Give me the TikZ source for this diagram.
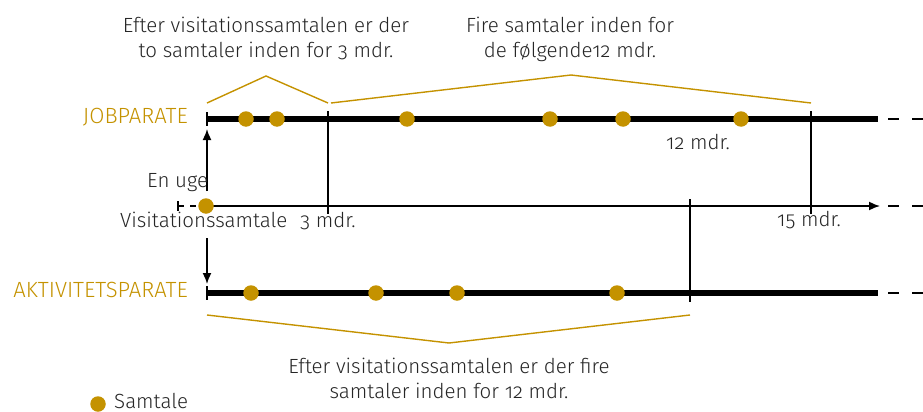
\documentclass[tikz,border=0pt]{standalone}
\usepackage{fontspec}
\setmainfont[Numbers=OldStyle]{Fira Sans Light}
\usetikzlibrary{arrows.meta}
\definecolor{gold}{RGB}{196,146,0}
\tikzset{
  dot/.style={circle,fill=gold,inner sep=0pt,minimum size=15.5pt},
  track/.style={line width=5.5pt},
  axisline/.style={line width=1.6pt},
  marker/.style={line width=1.6pt},
  brace/.style={gold,line width=1.4pt},
  tail/.style={line width=1.6pt,dash pattern=on 11pt off 13pt},
  lbl/.style={font=\fontsize{20.5}{25}\selectfont,text=black!85,inner sep=0pt},
  group/.style={lbl,gold,font=\fontsize{22}{26}\selectfont},
  tip/.style={-{Latex[length=11pt,width=9pt]}}
}
\begin{document}
\begin{tikzpicture}[x=1pt,y=-1pt]
\useasboundingbox (0,0) rectangle (923,412);

% track end points
\coordinate (jA) at (207,119); \coordinate (jB) at (878,119);
\coordinate (aA) at (207,293); \coordinate (aB) at (878,293);
\coordinate (tA) at (207,206); \coordinate (tB) at (880,206);

% row labels
\node[group,anchor=base east] (job) at (188,123) {JOBPARATE};
\node[group,anchor=base east] (akt) at (188,297) {AKTIVITETSPARATE};

% month markers
\coordinate (m3t) at (328,111); \coordinate (m3b) at (328,214);
\coordinate (m15t) at (811,111); \coordinate (m15b) at (811,214);
\coordinate (m12t) at (690,199); \coordinate (m12b) at (690,302);
\draw[marker] (m3t) -- (m3b);
\draw[marker] (m15t) -- (m15b);
\draw[marker] (m12t) -- (m12b);

% main time axis
\draw[axisline,tip] (tA) -- (tB);
\coordinate (lt0) at (178,206); \coordinate (lt1) at (200,206);
\draw[line width=1.6pt,dash pattern=on 6pt off 6pt] (lt0) -- (lt1);
\draw[line width=1.6pt] (178,201) -- (178,211);
\coordinate (rt0) at (888,206); \coordinate (rt1) at (923,206);
\draw[tail] (rt0) -- (rt1);

% the two tracks
\draw[track] (jA) -- (jB);
\draw[line width=1.8pt] (207,112) -- (207,126);
\draw[tail] (888,119) -- (923,119);
\draw[track] (aA) -- (aB);
\draw[line width=1.8pt] (207,286) -- (207,300);
\draw[tail] (888,293) -- (923,293);

% one week to the first conversation
\coordinate (upS) at (207,191); \coordinate (upE) at (207,129);
\coordinate (dnS) at (207,238); \coordinate (dnE) at (207,284);
\draw[line width=1.6pt,tip] (upS) -- (upE);
\draw[line width=1.6pt,tip] (dnS) -- (dnE);

% conversations
\node[dot] (v0) at (206,206) {};
\foreach \x [count=\i] in {246,277,407,550,623,741}
  \node[dot] (j\i) at (\x,119) {};
\foreach \x [count=\i] in {251,376,457,617}
  \node[dot] (a\i) at (\x,293) {};

% axis labels
\node[lbl,anchor=base west] (uge) at (147,187) {En uge};
\node[lbl,anchor=base west] (vis) at (120,227) {Visitationssamtale};
\node[lbl,anchor=base west] (t3) at (300,227) {3 mdr.};
\node[lbl,anchor=base west] (t12) at (666,149) {12 mdr.};
\node[lbl,anchor=base west] (t15) at (777,226) {15 mdr.};

% braces grouping the conversations
\coordinate (b1a) at (207,103); \coordinate (b1m) at (266,76); \coordinate (b1b) at (328,103);
\coordinate (b2a) at (331,103); \coordinate (b2m) at (571,75); \coordinate (b2b) at (811,103);
\coordinate (b3a) at (207,315); \coordinate (b3m) at (449,343); \coordinate (b3b) at (690,315);
\draw[brace] (b1a) -- (b1m) -- (b1b);
\draw[brace] (b2a) -- (b2m) -- (b2b);
\draw[brace] (b3a) -- (b3m) -- (b3b);

% notes
\node[lbl,anchor=base] (n1a) at (266,33) {Efter visitationssamtalen er der};
\node[lbl,anchor=base] (n1b) at (266,58) {to samtaler inden for 3 mdr.};
\node[lbl,anchor=base] (n2a) at (570,33) {Fire samtaler inden for};
\node[lbl,anchor=base] (n2b) at (570,58) {de følgende12 mdr.};
\node[lbl,anchor=base] (n3a) at (449,373) {Efter visitationssamtalen er der fire};
\node[lbl,anchor=base] (n3b) at (449,398) {samtaler inden for 12 mdr.};

% legend
\node[dot] (key) at (98,404) {};
\node[lbl,anchor=base west] (keyt) at (114,408) {Samtale};
\end{tikzpicture}
\end{document}
